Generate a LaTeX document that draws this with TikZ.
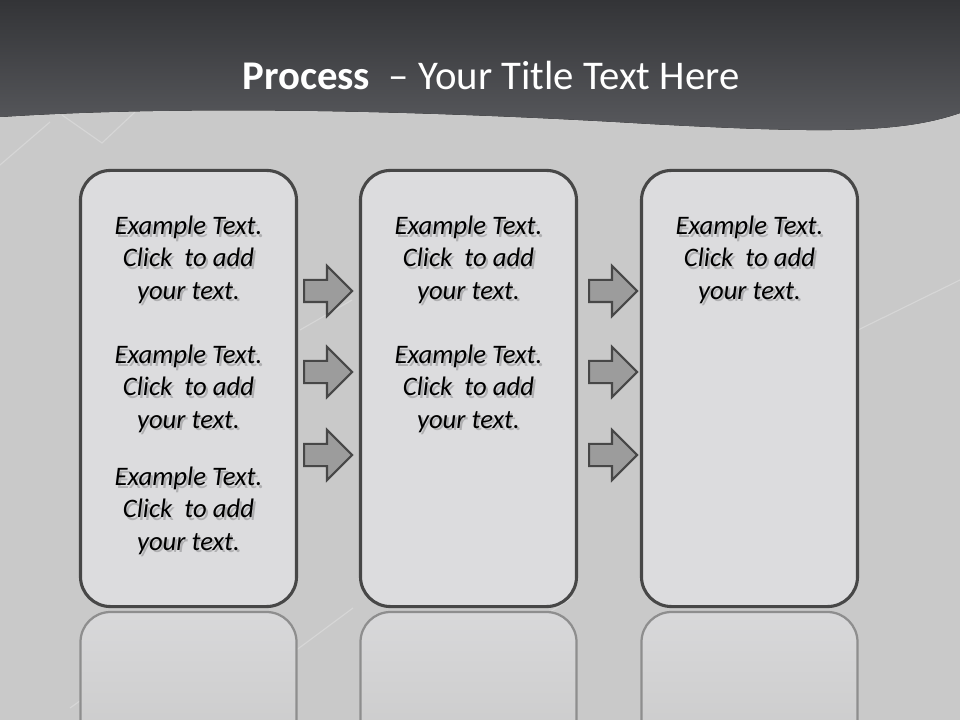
\documentclass[tikz,border=0pt]{standalone}
\usepackage{fontspec}
\setmainfont{Carlito}
\usetikzlibrary{shapes, shapes.arrows, calc, positioning}

\definecolor{headdark}{HTML}{333437}
\definecolor{headlight}{HTML}{595A5E}
\definecolor{backgray}{HTML}{C9C9C9}
\definecolor{boxfill}{HTML}{DCDCDE}
\definecolor{boxline}{HTML}{474747}
\definecolor{arrowfill}{HTML}{9C9C9C}
\definecolor{mirrorline}{HTML}{8E8E8E}
\definecolor{textshade}{HTML}{AFAFB1}

% a line of text with a soft drop shadow behind it
\newcommand{\shadowline}[1]{%
  \makebox[0pt][l]{\hspace{1.6pt}\raisebox{-1.6pt}{\color{textshade}#1}}#1}

\tikzset{
  stage/.style={draw=boxline, line width=2.2pt, fill=boxfill, rounded corners=0.75cm,
                minimum width=5.4cm, minimum height=10.9cm, inner sep=0pt},
  mirror/.style={draw=mirrorline, line width=1.6pt, rounded corners=0.75cm,
                 top color=boxfill!80!backgray, bottom color=backgray},
  flow/.style={single arrow, draw=boxline, line width=1.5pt, fill=arrowfill,
               minimum height=1.2cm, single arrow head extend=0.35cm,
               inner xsep=0pt, inner ysep=0.25cm, anchor=tail},
  sample/.style={font=\fontsize{19}{22.8}\selectfont\itshape, align=center, text=black},
  ghost/.style={white, opacity=0.25, line width=0.8pt},
}

\begin{document}
\begin{tikzpicture}[x=0.025cm, y=-0.025cm]
\clip (0,0) rectangle (960,720);
\fill[backgray] (0,0) rectangle (960,720);

% faint lines of the backdrop
\draw[ghost] (0,165) -- (50,122);
\draw[ghost] (62,115) -- (102,143) -- (135,112);
\draw[ghost] (70,708) -- (183,628);
\draw[ghost] (200,613) -- (287,657) -- (353,608);
\draw[ghost] (527,627) -- (573,597);
\draw[ghost] (300,330) -- (352,300);
\draw[ghost] (858,330) -- (960,280);

% the dark header with its wavy lower edge
\fill[top color=headdark, bottom color=headlight]
  (0,0) -- (960,0) -- (960,113)
  .. controls (900,134) and (820,133) .. (650,124)
  .. controls (450,112) and (200,104) .. (0,117) -- cycle;
\node[text=white, font=\fontsize{29}{34}\selectfont] (title) at (491,75)
  {\textbf{Process}\ \ – Your Title Text Here};

% the three stages and their reflections
\foreach \n/\x in {1/188.5, 2/468.5, 3/749.5} {
  \draw[mirror] (\x-108,770) -- (\x-108,612) -- (\x+108,612) -- (\x+108,770);
  \node[stage] (box\n) at (\x,388.5) {};
}

% texts inside the stages
\foreach \x/\y/\n in {188.5/261/a, 188.5/390/b, 188.5/512/c,
                      468.5/261/d, 468.5/390/e,
                      749.5/261/f} {
  \node[sample] (txt\n) at (\x,\y)
    {\shadowline{Example Text.}\\\shadowline{Click\ \ to add}\\\shadowline{your text.}};
}

% arrows between the stages
\foreach \x/\y/\n in {303/291/1, 303/372/2, 303/455/3,
                      588/291/4, 588/372/5, 588/455/6} {
  \node[flow] (arr\n) at (\x,\y) {};
}
\end{tikzpicture}
\end{document}
